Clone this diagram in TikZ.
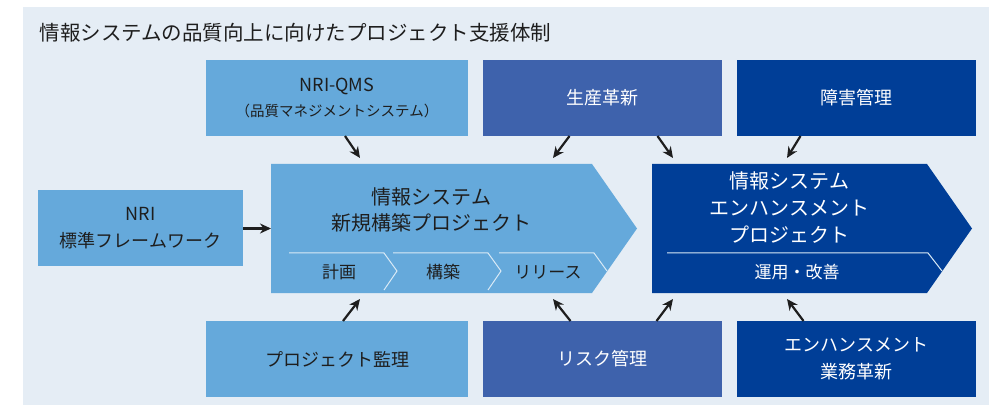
\documentclass[tikz,border=0pt]{standalone}
\usepackage{fontspec}
\setmainfont{Noto Sans CJK JP}
\usetikzlibrary{positioning,arrows.meta,calc}
\definecolor{PaleGround}{RGB}{229,237,245}
\definecolor{SkyBlue}{RGB}{101,169,219}
\definecolor{RoyalBand}{RGB}{62,98,172}
\definecolor{NavyBand}{RGB}{0,62,151}
\definecolor{InkText}{RGB}{30,30,30}
\tikzset{
  conn/.style={-{Stealth[length=11pt,width=10pt]},line width=2.2pt,draw=InkText},
  lightbox/.style={fill=SkyBlue,text=InkText,minimum height=76pt,inner sep=0pt,
    outer sep=0pt,align=center,font=\fontsize{18}{27}\selectfont},
  royalbox/.style={lightbox,fill=RoyalBand,text=white},
  navybox/.style={lightbox,fill=NavyBand,text=white},
  body/.style={minimum height=129pt,inner sep=0pt,outer sep=0pt},
  bigtext/.style={align=center,font=\fontsize{20}{26}\selectfont},
  steplabel/.style={font=\fontsize{17}{20}\selectfont},
  bandline/.style={draw=white!75!SkyBlue,line width=1pt}
}

\begin{document}
\begin{tikzpicture}[x=1pt,y=1pt]
  \useasboundingbox (0,0) rectangle (989,405);
  \fill[PaleGround] (23,0) rectangle (989,398);
  \node[anchor=west,text=InkText,font=\fontsize{20.5}{24}\selectfont] (title) at (36,372)
    {情報システムの品質向上に向けたプロジェクト支援体制};
  % arrow bodies
  \node[body,minimum width=321pt] (build) at (431.5,176.5) {};
  \node[body,minimum width=275pt,right=60pt of build] (enh) {};
  \fill[SkyBlue] (build.north west) -- (build.north east) -- ($(build.east)+(45,0)$)
    -- (build.south east) -- (build.south west) -- cycle;
  \fill[NavyBand] (enh.north west) -- (enh.north east) -- ($(enh.east)+(45,0)$)
    -- (enh.south east) -- (enh.south west) -- cycle;
  \node[bigtext,text=InkText] (buildtxt) at ($(build.north)+(0,-46)$)
    {情報システム\\新規構築プロジェクト};
  \node[bigtext,text=white,font=\fontsize{20}{27}\selectfont] (enhtxt) at ($(enh.north)+(0,-44)$)
    {情報システム\\エンハンスメント\\プロジェクト};
  % steps
  \foreach \x in {289,393,499}
    \draw[bandline] (\x,152) -- ++(95,0) -- ++(13,-18);
  \foreach \x in {289,393}
    \draw[bandline] (\x+108,134) -- ++(-13,-19);
  \draw[bandline] (667,152) -- (928,152) -- (942,134);
  \node[steplabel,text=InkText] (plan) at (339,133) {計画};
  \node[steplabel,text=InkText] (make) at (443,133) {構築};
  \node[steplabel,text=InkText] (release) at (548,133) {リリース};
  \node[steplabel,text=white] (ops) at (797,133) {運用・改善};
  % top row
  \node[lightbox,minimum width=262pt] (qms) at (337,307)
    {NRI-QMS\\[-2pt]{\fontsize{14.5}{18}\selectfont（品質マネジメントシステム）}};
  \node[royalbox,minimum width=239pt,right=15pt of qms] (seisan) {生産革新};
  \node[navybox,minimum width=239pt,right=15pt of seisan] (shogai) {障害管理};
  % left
  \node[lightbox,minimum width=205pt,left=28pt of build] (nrifw) {NRI\\標準フレームワーク};
  % bottom row
  \node[lightbox,minimum width=262pt] (kanri) at (337,46) {プロジェクト監理};
  \node[royalbox,minimum width=239pt,right=15pt of kanri] (risk) {リスク管理};
  \node[navybox,minimum width=239pt,right=15pt of risk] (gyomu) {エンハンスメント\\業務革新};
  % connectors
  \draw[conn] (qms.south) ++(8,0) -- ($(build.north west)+(89,6)$);
  \draw[conn] (seisan.south) ++(-33,0) -- ($(build.north west)+(282,6)$);
  \draw[conn] (seisan.south) ++(55,0) -- ($(enh.north west)+(21,6)$);
  \draw[conn] (shogai.south) ++(-56,0) -- ($(enh.north west)+(135,6)$);
  \draw[conn] (nrifw) -- (build);
  \draw[conn] (kanri.north) ++(6,0) -- ($(build.south west)+(89,-6)$);
  \draw[conn] (risk.north) ++(-32,0) -- ($(build.south west)+(282,-6)$);
  \draw[conn] (risk.north) ++(54,0) -- ($(enh.south west)+(21,-6)$);
  \draw[conn] (gyomu.north) ++(-53,0) -- ($(enh.south west)+(135,-6)$);
\end{tikzpicture}
\end{document}
